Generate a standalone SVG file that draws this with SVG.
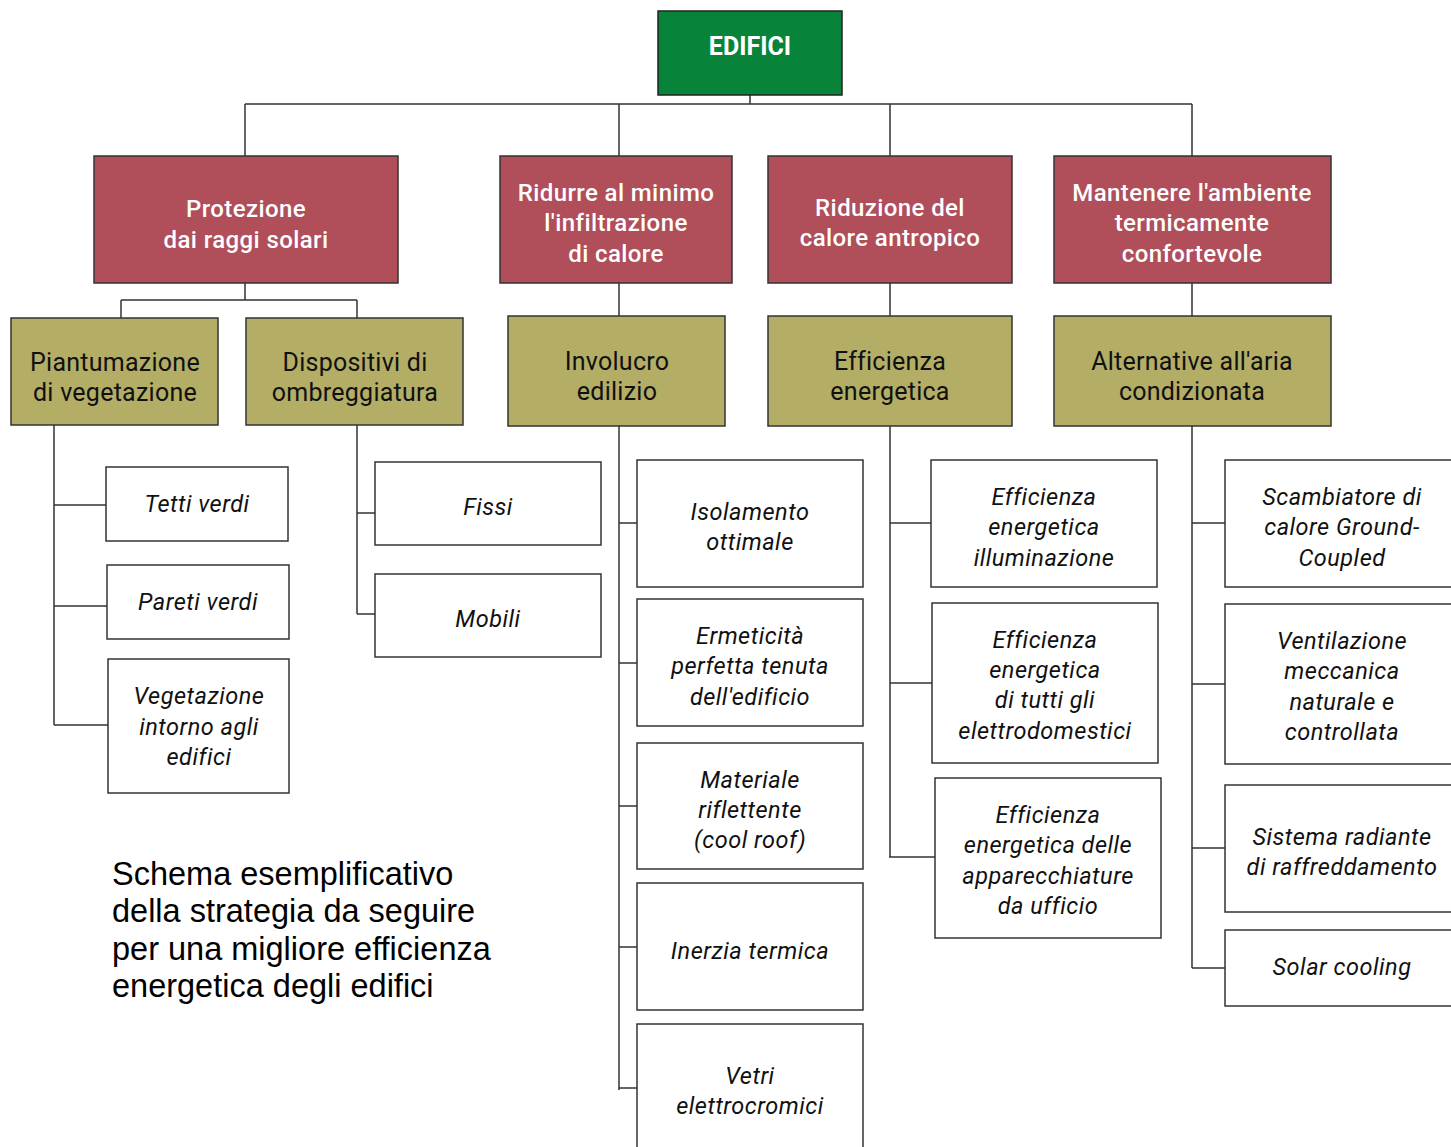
<svg xmlns="http://www.w3.org/2000/svg" width="1451" height="1147" viewBox="0 0 1451 1147">
<style>
text{font-family:Roboto,"Liberation Sans",sans-serif;text-anchor:middle;dominant-baseline:central}
.root rect{fill:#07843a;stroke:#222;stroke-width:1.5}
.root text{fill:#fff;font-size:25px;font-weight:700}
.l1 rect{fill:#b04e5a;stroke:#333;stroke-width:1.5}
.l1 text{fill:#fff;font-size:24px;font-weight:500;letter-spacing:0.4px}
.l2 rect{fill:#b3ad65;stroke:#333;stroke-width:1.5}
.l2 text{fill:#111;font-size:25px;letter-spacing:0.25px}
.l3 rect{fill:#fff;stroke:#333;stroke-width:1.5}
.l3 text{fill:#111;font-size:23.5px;font-style:italic;letter-spacing:0.5px}
#connectors path{fill:none;stroke:#333;stroke-width:1.5}
.caption{font-family:"Liberation Sans",Arial,sans-serif;font-size:32.5px;fill:#000;text-anchor:start;dominant-baseline:auto}
</style>
<rect width="1451" height="1147" fill="#fff"/>
<g id="connectors">
<path d="M750 95V104M245 104H1192M245 104V156M619 104V156M890 104V156M1192 104V156"/>
<path d="M245 283V300M121 300H357M121 300V318M357 300V318"/>
<path d="M619 283V316M890 283V316M1192 283V316"/>
<path d="M54 425V725M54 505H106M54 606H107M54 725H108"/>
<path d="M357 425V614M357 513H375M357 614H375"/>
<path d="M619 426V1090M619 523H637M619 663H637M619 806H637M619 947H637M619 1088H637"/>
<path d="M890 426V857M890 523H931M890 683H932M889 857H935"/>
<path d="M1192 426V968M1192 523H1225M1192 684H1225M1192 848H1225M1192 968H1225"/>
</g>
<g id="n-edifici" class="root"><rect x="658" y="11" width="184" height="84"/><text x="750" y="46">EDIFICI</text></g>
<g id="n-protezione" class="l1"><rect x="94" y="156" width="304" height="127"/><text x="246" y="209">Protezione</text><text x="246" y="240">dai raggi solari</text></g>
<g id="n-ridurre" class="l1"><rect x="500" y="156" width="232" height="127"/><text x="616" y="193">Ridurre al minimo</text><text x="616" y="223">l'infiltrazione</text><text x="616" y="254">di calore</text></g>
<g id="n-riduzione" class="l1"><rect x="768" y="156" width="244" height="127"/><text x="890" y="208">Riduzione del</text><text x="890" y="238">calore antropico</text></g>
<g id="n-mantenere" class="l1"><rect x="1054" y="156" width="277" height="127"/><text x="1192" y="193">Mantenere l'ambiente</text><text x="1192" y="223">termicamente</text><text x="1192" y="254">confortevole</text></g>
<g id="n-piantumazione" class="l2"><rect x="11" y="318" width="207" height="107"/><text x="115" y="362">Piantumazione</text><text x="115" y="392">di vegetazione</text></g>
<g id="n-dispositivi" class="l2"><rect x="246" y="318" width="217" height="107"/><text x="355" y="362">Dispositivi di</text><text x="355" y="392">ombreggiatura</text></g>
<g id="n-involucro" class="l2"><rect x="508" y="316" width="217" height="110"/><text x="617" y="361">Involucro</text><text x="617" y="391">edilizio</text></g>
<g id="n-efficienza" class="l2"><rect x="768" y="316" width="244" height="110"/><text x="890" y="361">Efficienza</text><text x="890" y="391">energetica</text></g>
<g id="n-alternative" class="l2"><rect x="1054" y="316" width="277" height="110"/><text x="1192" y="361">Alternative all'aria</text><text x="1192" y="391">condizionata</text></g>
<g id="n-tetti" class="l3"><rect x="106" y="467" width="182" height="74"/><text x="197" y="504">Tetti verdi</text></g>
<g id="n-pareti" class="l3"><rect x="107" y="565" width="182" height="74"/><text x="198" y="602">Pareti verdi</text></g>
<g id="n-vegetazione" class="l3"><rect x="108" y="659" width="181" height="134"/><text x="199" y="696">Vegetazione</text><text x="199" y="727">intorno agli</text><text x="199" y="757">edifici</text></g>
<g id="n-fissi" class="l3"><rect x="375" y="462" width="226" height="83"/><text x="488" y="507">Fissi</text></g>
<g id="n-mobili" class="l3"><rect x="375" y="574" width="226" height="83"/><text x="488" y="619">Mobili</text></g>
<g id="n-isolamento" class="l3"><rect x="637" y="460" width="226" height="127"/><text x="750" y="512">Isolamento</text><text x="750" y="542">ottimale</text></g>
<g id="n-ermeticita" class="l3"><rect x="637" y="599" width="226" height="127"/><text x="750" y="636">Ermeticità</text><text x="750" y="666">perfetta tenuta</text><text x="750" y="697">dell'edificio</text></g>
<g id="n-materiale" class="l3"><rect x="637" y="743" width="226" height="126"/><text x="750" y="780">Materiale</text><text x="750" y="810">riflettente</text><text x="750" y="840">(cool roof)</text></g>
<g id="n-inerzia" class="l3"><rect x="637" y="883" width="226" height="127"/><text x="750" y="951">Inerzia termica</text></g>
<g id="n-vetri" class="l3"><rect x="637" y="1024" width="226" height="140"/><text x="750" y="1076">Vetri</text><text x="750" y="1106">elettrocromici</text></g>
<g id="n-illuminazione" class="l3"><rect x="931" y="460" width="226" height="127"/><text x="1044" y="497">Efficienza</text><text x="1044" y="527">energetica</text><text x="1044" y="558">illuminazione</text></g>
<g id="n-elettrodomestici" class="l3"><rect x="932" y="603" width="226" height="160"/><text x="1045" y="640">Efficienza</text><text x="1045" y="670">energetica</text><text x="1045" y="700">di tutti gli</text><text x="1045" y="731">elettrodomestici</text></g>
<g id="n-ufficio" class="l3"><rect x="935" y="778" width="226" height="160"/><text x="1048" y="815">Efficienza</text><text x="1048" y="845">energetica delle</text><text x="1048" y="876">apparecchiature</text><text x="1048" y="906">da ufficio</text></g>
<g id="n-scambiatore" class="l3"><rect x="1225" y="460" width="240" height="127"/><text x="1342" y="497">Scambiatore di</text><text x="1342" y="527">calore Ground-</text><text x="1342" y="558">Coupled</text></g>
<g id="n-ventilazione" class="l3"><rect x="1225" y="604" width="240" height="160"/><text x="1342" y="641">Ventilazione</text><text x="1342" y="671">meccanica</text><text x="1342" y="702">naturale e</text><text x="1342" y="732">controllata</text></g>
<g id="n-sistema" class="l3"><rect x="1225" y="785" width="240" height="127"/><text x="1342" y="837">Sistema radiante</text><text x="1342" y="867">di raffreddamento</text></g>
<g id="n-solar" class="l3"><rect x="1225" y="930" width="240" height="76"/><text x="1342" y="967">Solar cooling</text></g>
<g id="caption">
<text class="caption" x="112" y="885">Schema esemplificativo</text>
<text class="caption" x="112" y="922">della strategia da seguire</text>
<text class="caption" x="112" y="960">per una migliore efficienza</text>
<text class="caption" x="112" y="997">energetica degli edifici</text>
</g>
</svg>
